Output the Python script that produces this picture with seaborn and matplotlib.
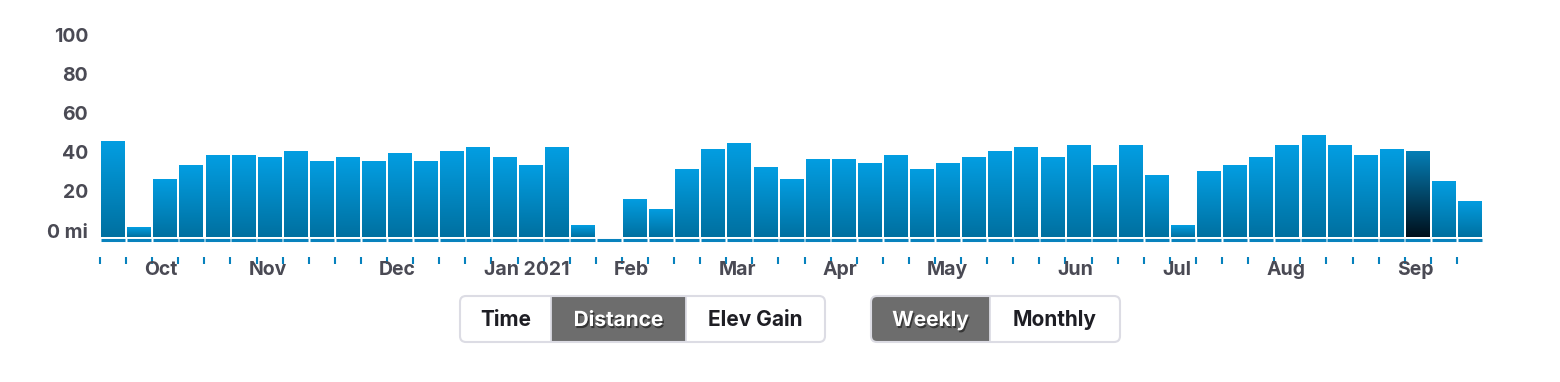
import numpy as np
import pandas as pd
import matplotlib
matplotlib.use("Agg")
import matplotlib.pyplot as plt
import seaborn as sns
from matplotlib.colors import LinearSegmentedColormap
from matplotlib.patches import FancyBboxPatch, Rectangle
from matplotlib import transforms
import matplotlib.patheffects as pe

# weekly distance, one bar per week (week starts on Monday)
week_starts = pd.date_range("2020-09-21", periods=53, freq="7D")
miles = [49.0, 5.1, 29.6, 36.7, 41.8, 41.8, 40.8, 43.9, 38.8, 40.8,
         38.8, 42.9, 38.8, 43.9, 45.9, 40.8, 36.7, 45.9, 6.1, 0.0,
         19.4, 14.3, 34.7, 44.9, 48.0, 35.7, 29.6, 39.8, 39.8, 37.8,
         41.8, 34.7, 37.8, 40.8, 43.9, 45.9, 40.8, 46.9, 36.7, 46.9,
         31.6, 6.1, 33.7, 36.7, 40.8, 46.9, 52.0, 46.9, 41.8, 44.9,
         43.9, 28.6, 18.4]
highlight_week = pd.Timestamp("2021-09-06")

y_ticks = [0, 20, 40, 60, 80, 100]
y_labels = ["0 mi", "20", "40", "60", "80", "100"]

month_starts = pd.date_range("2020-10-01", "2021-09-01", freq="MS")
month_names = ["Oct", "Nov", "Dec", "Jan 2021", "Feb", "Mar", "Apr",
               "May", "Jun", "Jul", "Aug", "Sep"]

metric_buttons = ["Time", "Distance", "Elev Gain"]
period_buttons = ["Weekly", "Monthly"]
active_metric = "Distance"
active_period = "Weekly"

TEXT = "#4a4a54"
LINE_BLUE = "#0882bd"

sns.set_theme(style="white")
plt.rcParams["font.family"] = ["Inter", "DejaVu Sans"]

fig = plt.figure(figsize=(15.6, 3.82), dpi=100)
ax = fig.add_axes([100 / 1560, 145 / 382, 1383 / 1560, 196 / 382])

df = pd.DataFrame({"week": week_starts.strftime("%Y-%m-%d"), "miles": miles})
sns.barplot(data=df, x="week", y="miles", width=0.91, color="#039ee2",
            errorbar=None, ax=ax)

blue = LinearSegmentedColormap.from_list("blue", ["#0070a0", "#039ee2"])
dark = LinearSegmentedColormap.from_list("dark", ["#00101c", "#0580b8"])
grad = np.linspace(0, 1, 256).reshape(-1, 1)
for i, bar in enumerate(ax.patches):
    x0, y0, w, h = bar.get_x(), bar.get_y(), bar.get_width(), bar.get_height()
    bar.set_facecolor("none")
    bar.set_edgecolor("none")
    if h <= 0:
        continue
    cmap = dark if week_starts[i] == highlight_week else blue
    im = ax.imshow(grad, extent=[x0, x0 + w, y0, y0 + h], origin="lower",
                   aspect="auto", cmap=cmap, zorder=2)
    im.set_clip_path(bar)

n = len(miles)
ax.set_xlim(-0.5, n - 0.5)
ax.set_ylim(0, 100)
ax.set_xticks([])
ax.set_xlabel("")
ax.set_ylabel("")
ax.set_yticks(y_ticks)
ax.set_yticklabels(y_labels, fontsize=14, fontweight="bold", color=TEXT)
ax.tick_params(axis="y", length=0, pad=8.5)
for lab in ax.get_yticklabels():
    lab.set_transform(lab.get_transform() +
                      transforms.ScaledTranslation(0, 6.5 / 100, fig.dpi_scale_trans))
sns.despine(ax=ax, left=True, bottom=True)

# baseline strip, week ticks and month labels below the bars
trans = transforms.blended_transform_factory(ax.transData, ax.transAxes)
for i in range(n):
    ax.plot([i - 0.5 + 0.03, i + 0.5 - 0.03], [-3 / 196, -3 / 196], color=LINE_BLUE,
            lw=2.2, transform=trans, clip_on=False, solid_capstyle="butt")
    ax.plot([i - 0.5, i - 0.5], [-20 / 196, -27 / 196], color=LINE_BLUE,
            lw=1.5, transform=trans, clip_on=False, solid_capstyle="butt")

for d, name in zip(month_starts, month_names):
    k = (d - week_starts[0]).days // 7
    ax.text(k + 0.2, -33 / 196, name, transform=trans, ha="left", va="center",
            fontsize=14, fontweight="bold", color=TEXT)

# toggle buttons
ov = fig.add_axes([0, 0, 1, 1], zorder=-1)
ov.set_xlim(0, 1560)
ov.set_ylim(382, 0)
ov.axis("off")


def button_group(x0, x1, dividers, labels, active, y0=296, y1=342, r=6):
    edges = [x0] + dividers + [x1]
    ov.add_patch(FancyBboxPatch((x0, y0), x1 - x0, y1 - y0,
                                boxstyle=f"round,pad=0,rounding_size={r}",
                                fc="white", ec="none"))
    for j, lab in enumerate(labels):
        a, b = edges[j], edges[j + 1]
        on = lab == active
        if on:
            if j == 0 or j == len(labels) - 1:
                ov.add_patch(FancyBboxPatch((a, y0), b - a, y1 - y0,
                                            boxstyle=f"round,pad=0,rounding_size={r}",
                                            fc="#6d6d6d", ec="none"))
                half = a + (b - a) / 2 if j == 0 else a
                ov.add_patch(Rectangle((half, y0), (b - a) / 2, y1 - y0,
                                       fc="#6d6d6d", ec="none"))
            else:
                ov.add_patch(Rectangle((a, y0), b - a, y1 - y0, fc="#6d6d6d", ec="none"))
        t = ov.text((a + b) / 2, (y0 + y1) / 2 + 1, lab, ha="center", va="center",
                    fontsize=15, fontweight="bold",
                    color="white" if on else "#1e1e24")
        if on:
            t.set_path_effects([pe.withSimplePatchShadow(offset=(1, -1.5),
                                                         shadow_rgbFace="black", alpha=0.5)])
    for d in dividers:
        ov.plot([d, d], [y0, y1], color="#dcdce4", lw=1.3)
    ov.add_patch(FancyBboxPatch((x0, y0), x1 - x0, y1 - y0,
                                boxstyle=f"round,pad=0,rounding_size={r}",
                                fc="none", ec="#dcdce4", lw=1.5))


button_group(460, 825, [551, 686], metric_buttons, active_metric)
button_group(871, 1120, [990], period_buttons, active_period)

fig.savefig("out.png", dpi=100, facecolor="white")
